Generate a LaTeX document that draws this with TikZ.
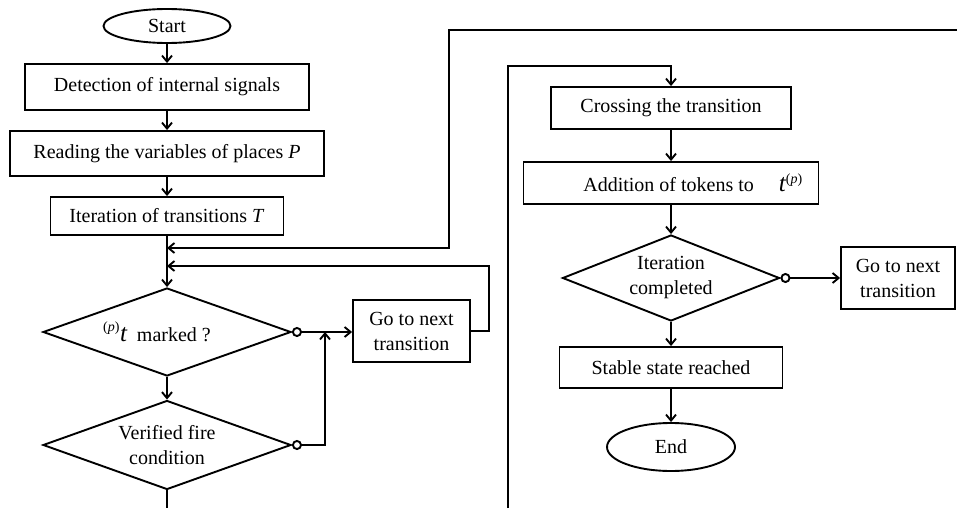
\documentclass[tikz,border=0pt]{standalone}
\usepackage{fontspec}
\setmainfont{Liberation Serif}
\usepackage{tikz}
\usetikzlibrary{arrows.meta}
\usetikzlibrary{shapes.geometric}
\tikzset{>={Straight Barb[length=6pt,width=10pt]}}
\tikzset{
	every node/.style={font=\fontsize{20}{25}\selectfont, inner sep=0pt},
	proc/.style={draw, rectangle, align=center},
	term/.style={draw, ellipse},
	test/.style={draw, diamond, aspect=2.8, align=center},
	arr/.style={->},
	noarr/.style={{Circle[open,length=10pt,width=10pt]}->}
}
\newcommand{\tvar}{{\fontsize{25}{25}\selectfont\itshape t}}

\begin{document}
\begin{tikzpicture}[x=1pt, y=-1pt, line width=1.9pt]
			\useasboundingbox (0,0) rectangle (957,508);

			% left column
			\node[term, minimum width=127pt, minimum height=34pt] (start) at (167,26) {Start};
			\node[proc, minimum width=284pt, minimum height=46pt] (detect) at (167,87) {Detection of internal signals};
			\node[proc, minimum width=314pt, minimum height=45pt] (read) at (167,153.5) {Reading the variables of places \textit{P}};
			\node[proc, minimum width=233pt, minimum height=38pt] (iter) at (167,216) {Iteration of transitions \textit{T}};
			\node[test, minimum width=248pt, minimum height=88pt] (marked) at (167,332) {\raisebox{2pt}{\textsuperscript{(\textit{p})}}\tvar\ \ marked ?\hspace*{20pt}};
			\node[test, minimum width=248pt, minimum height=89pt] (fire) at (167,445) {Verified fire\\condition};
			\node[proc, minimum width=117pt, minimum height=62pt] (next1) at (411.5,331) {Go to next\\transition};

			% right column
			\node[proc, minimum width=240pt, minimum height=42pt] (cross) at (671,108) {Crossing the transition};
			\node[proc, minimum width=295pt, minimum height=42pt] (add) at (671,183) {\hspace*{44pt}Addition of tokens to \quad\tvar\textsuperscript{(\textit{p})}};
			\node[test, minimum width=217pt, minimum height=86pt] (done) at (671,278) {Iteration\\completed};
			\node[proc, minimum width=114pt, minimum height=62pt] (next2) at (898,278) {Go to next\\transition};
			\node[proc, minimum width=223pt, minimum height=41pt] (stable) at (671,367.5) {Stable state reached};
			\node[term, minimum width=128pt, minimum height=48pt] (end) at (671,447) {End};

			\coordinate (outA) at (957,30);
			\coordinate (joinA) at (167,248);
			\coordinate (joinB) at (167,266);
			\coordinate (mergeB) at (325,332);
			\coordinate (outF) at (167,508);
			\coordinate (inC) at (508,508);

			\draw[arr] (start) -- (detect);
			\draw[arr] (detect) -- (read);
			\draw[arr] (read) -- (iter);
			\draw[arr] (iter) -- (marked);
			\draw[arr] (outA) -| (449,248) -- (joinA);
			\draw[arr] (next1.east) -- ++(18,0) |- (joinB);
			\draw[noarr] (marked.east) -- (marked.east -| next1.west);
			\draw[noarr] (fire.east) -| (mergeB);
			\draw[arr] (marked) -- (fire);
			\draw (fire) -- (outF);

			\draw[arr] (inC) -- (508,66) -| (cross.north);
			\draw[arr] (cross) -- (add);
			\draw[arr] (add) -- (done);
			\draw[noarr] (done.east) -- (next2.west);
			\draw[arr] (done) -- (stable);
			\draw[arr] (stable) -- (end);
		\end{tikzpicture}
\end{document}
